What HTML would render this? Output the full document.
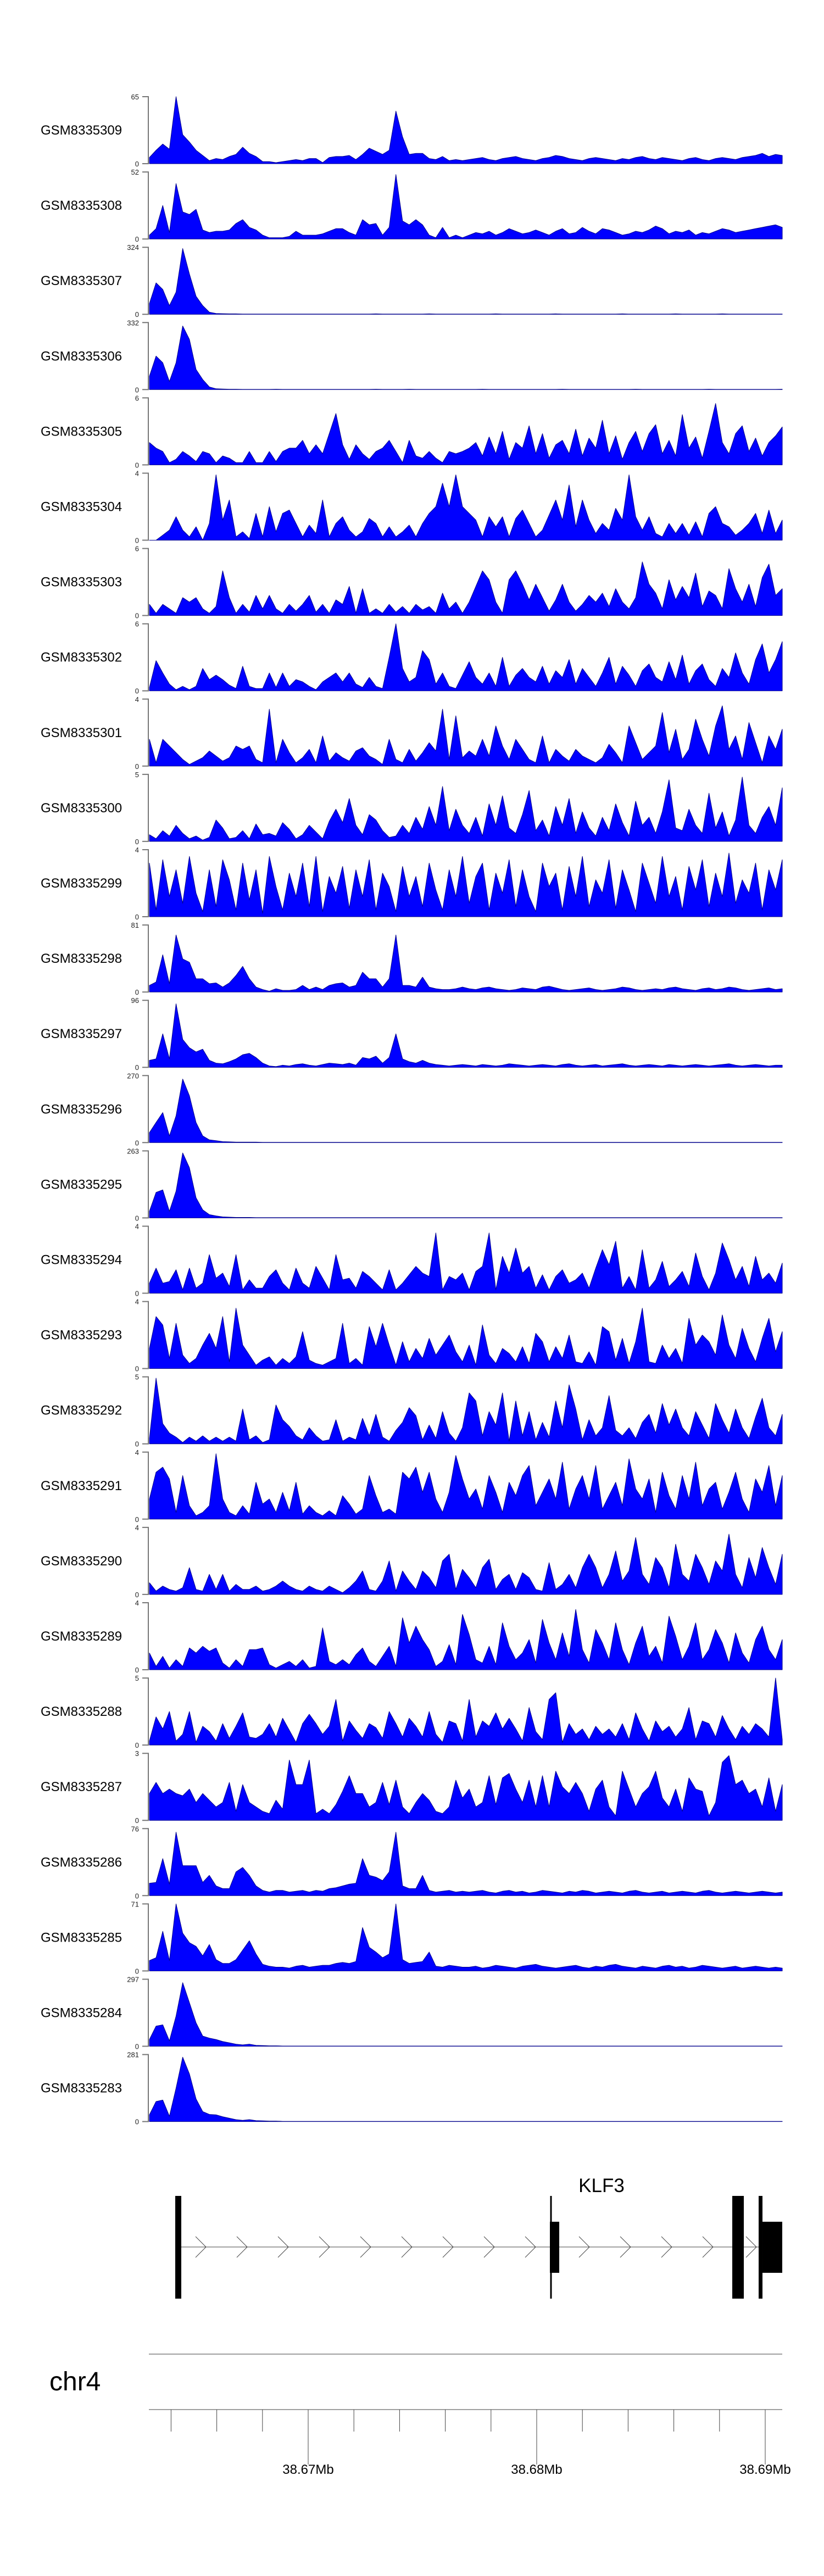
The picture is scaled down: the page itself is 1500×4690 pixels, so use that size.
<!DOCTYPE html>
<html><head><meta charset="utf-8"><style>
html,body{margin:0;padding:0;background:#fff;}
svg{display:block;}
text{font-family:"Liberation Sans",Arial,sans-serif;}
</style></head><body>
<svg id="fig" xmlns="http://www.w3.org/2000/svg" width="1500" height="4690" viewBox="0 0 1500 4690"></svg>
<script>
// ---- data ----
const sampleNames = ["GSM8335309","GSM8335308","GSM8335307","GSM8335306","GSM8335305","GSM8335304","GSM8335303","GSM8335302","GSM8335301","GSM8335300","GSM8335299","GSM8335298","GSM8335297","GSM8335296","GSM8335295","GSM8335294","GSM8335293","GSM8335292","GSM8335291","GSM8335290","GSM8335289","GSM8335288","GSM8335287","GSM8335286","GSM8335285","GSM8335284","GSM8335283"];
const axisMax = [65,52,324,332,6,4,6,6,4,5,4,81,96,270,263,4,4,5,4,4,4,5,3,76,71,297,281];

const s309 = [6,13,19,14,65,28,21,13,8,3,5,4,7,9,16,10,7,2,2,1,2,3,4,3,5,5,1,6,7,7,8,4,9,15,12,9,13,51,26,9,10,10,5,4,7,3,4,3, 4,5,6,4,3,5,6,7,5,4,3,5,6,8,7,5,4,3,5,6,5,4,3,5,4,6,7,5,4,6,5,4,3,5,6,4,3,5,6,5,4,6,7,8,10,7,9,8];
const s308 = [3,8,26,5,43,21,19,23,7,5,6,6,7,12,15,9,7,3,1,1,1,2,6,3,3,3,4,6,8,8,5,3,15,11,12,3,9,50,14,11,15,11,3,1,9,1,3,1, 3,5,4,6,3,5,8,6,4,5,7,5,3,6,8,4,5,9,6,4,8,7,5,3,4,6,5,7,10,8,4,6,5,7,3,5,4,6,8,7,5,6,7,8,9,10,11,9];
const s307 = [52,152,120,42,107,318,195,87,42,10,4,3,2,2,1,1,1,1,1,1,1,1,1,1,1,1,1,1,1,1,1,1,1,1,2,1,1,1,1,1,1,1,2,1,1,1,1,1, 1,1,1,1,2,1,1,1,1,1,1,1,1,2,1,1,1,1,1,1,1,1,1,2,1,1,1,1,1,1,1,2,1,1,1,1,1,1,2,1,1,1,1,1,1,1,1,1];
const s306 = [66,166,133,40,133,315,249,100,50,13,4,3,2,2,1,1,1,1,1,2,1,1,1,1,1,1,1,1,1,1,1,1,1,1,2,1,1,1,1,2,1,1,1,1,1,1,1,1, 1,1,2,1,1,1,1,1,1,1,1,1,1,1,2,1,1,1,1,1,1,1,1,1,1,2,1,1,1,1,1,1,1,1,1,1,2,1,1,1,1,1,1,1,1,1,1,2];
const s305 = [2,1.5,1.2,0.2,0.5,1.2,0.8,0.3,1.2,1,0.2,0.8,0.6,0.2,0.2,1.2,0.2,0.2,1.2,0.3,1.2,1.5,1.5,2.2,1,1.8,1,2.8,4.6,1.8,0.5,1.8,1,0.5,1.2,1.5,2.2,1.2,0.2,2.2,0.8,0.6,1.2,0.6,0.2,1.2,1,1.2, 1.5,2,0.8,2.5,1,3,0.5,2,1.5,3.5,1,2.8,0.6,1.8,2.2,1,3.2,0.8,2.4,1.5,4,1,2.6,0.5,2,3,1.2,2.8,3.6,1,2.2,0.8,4.5,1.5,2.5,0.6,3,5.5,2,1,2.8,3.5,1.2,2.4,0.8,2,2.6,3.4];
const s304 = [0,0,0.3,0.6,1.4,0.6,0.2,0.8,0,1,3.9,1.2,2.4,0.2,0.5,0.1,1.6,0.2,2,0.5,1.6,1.8,1,0.2,0.9,0.4,2.4,0.2,1,1.4,0.6,0.2,0.5,1.3,1,0.2,0.8,0.2,0.5,0.9,0.2,1,1.6,2,3.4,2,3.9,2, 1.6,1.2,0.2,1.4,0.8,1.4,0.2,1.3,1.8,1,0.2,0.6,1.5,2.4,1.2,3.3,0.8,2.4,1.2,0.4,1,0.6,1.9,1.2,3.9,1.4,0.6,1.4,0.4,0.2,1,0.4,1,0.3,1.1,0.2,1.6,2,1,0.8,0.3,0.6,1,1.6,0.4,1.8,0.4,1.2];
const s303 = [1,0.2,1,0.6,0.2,1.6,1.2,1.6,0.6,0.2,0.8,4,1.6,0.2,1,0.3,1.8,0.6,1.8,0.6,0.2,1,0.4,1,1.8,0.3,1,0.2,1.4,1,2.6,0.2,2.4,0.2,0.6,0.2,1,0.3,0.8,0.2,1,0.5,0.8,0.2,2,0.6,1.2,0.2, 1.2,2.6,4,3.2,1.2,0.2,3.2,4,2.8,1.4,2.8,1.6,0.4,1.4,2.8,1.2,0.4,1,1.8,1.2,2,0.8,2.4,1.2,0.6,1.6,4.8,2.8,2,0.6,3.2,1.4,2.6,1.6,3.8,0.8,2.2,1.8,0.6,4.2,2.4,1.2,2.8,0.8,3.4,4.6,1.8,2.4];
const s302 = [0.3,2.7,1.6,0.6,0.1,0.4,0.1,0.4,2,1,1.4,1,0.5,0.2,2.2,0.4,0.2,0.2,1.6,0.3,1.6,0.4,1,0.8,0.4,0.1,0.8,1.2,1.6,0.8,1.6,0.6,0.3,1.2,0.4,0.2,3,6,2,0.8,1.2,3.6,2.8,0.6,1.6,0.4,0.2,1.4, 2.6,1.2,0.6,1.6,0.4,3,0.4,1.4,2,1.2,0.8,2.2,0.6,1.8,1.2,2.8,0.6,2,1.2,0.4,1.6,3,0.6,2.2,1.4,0.4,1.8,2.4,1.2,0.8,2.6,1,3.2,0.6,1.8,2.4,1,0.4,2,1.2,3.4,1.6,0.6,2.8,4.2,1.6,2.8,4.4];
const s301 = [1.6,0.2,1.6,1.2,0.8,0.4,0.1,0.3,0.5,0.9,0.6,0.3,0.5,1.2,1,1.2,0.4,0.2,3.4,0.2,1.6,0.8,0.2,0.5,1,0.2,1.8,0.3,0.8,0.5,0.3,0.9,1.1,0.6,0.4,0.1,1.6,0.4,0.2,1,0.3,0.8,1.4,0.9,3.4,0.4,3,0.5, 0.9,0.6,1.6,0.6,2.4,1.2,0.4,1.6,1,0.4,0.2,1.8,0.2,1,0.6,0.3,1,0.6,0.4,0.2,0.5,1.3,0.8,0.2,2.4,1.4,0.4,0.8,1.2,3.2,0.8,2.2,0.4,1,2.8,1.6,0.6,2.4,3.6,1,1.8,0.4,2.6,1.4,0.2,1.8,1,2.2];
const s300 = [0.5,0.2,0.8,0.4,1.2,0.6,0.2,0.4,0.1,0.3,1.6,1,0.2,0.3,0.8,0.2,1.3,0.5,0.6,0.4,1.4,0.9,0.2,0.5,1.2,0.7,0.2,1.5,2.4,1.4,3.2,1.2,0.5,2,1.6,0.8,0.3,0.4,1.2,0.6,1.8,0.9,2.6,1.2,4.1,0.8,2.4,1.2, 0.6,1.8,0.4,2.8,1.2,3.4,1,0.6,2,3.8,0.8,1.6,0.4,2.6,1.2,3.2,0.6,2.2,1,0.4,1.8,0.8,2.8,1.4,0.4,3,1.2,1.8,0.6,2.2,4.6,1,0.8,2.4,1.2,0.6,3.6,1,2.2,0.4,1.6,4.8,1.2,0.6,1.8,2.6,1.2,4];
const s299 = [3.2,0.4,3.4,1.2,2.8,0.8,3.6,1.4,0.3,2.8,0.6,3.4,2.2,0.4,3.2,1,2.8,0.2,3.6,1.8,0.4,2.6,1.2,3.2,0.6,3.6,0.3,2.4,1.4,3,0.5,2.8,1.2,3.4,0.4,2.6,1.8,0.3,3,1.2,2.4,0.6,3.2,1.6,0.4,2.8,1.2,3.6, 0.8,2.4,3.2,0.4,2.6,1.4,3.4,0.6,2.8,1.2,0.3,3.2,1.8,2.6,0.4,3,1.2,3.6,0.6,2.2,1.4,3.4,0.5,2.8,1.6,0.3,3.2,2,0.8,3.6,1.2,2.4,0.4,3,1.6,3.4,0.6,2.6,1.2,3.8,0.8,2.2,1.4,3.2,0.4,2.8,1.6,3.4];
const s298 = [8,12,45,10,69,40,36,16,16,10,11,6,11,20,31,16,6,3,1,4,2,2,3,8,3,6,3,8,10,11,6,8,24,16,16,6,16,69,8,8,6,18,6,4,3,3,4,6, 4,3,5,6,4,3,2,3,5,4,3,6,7,5,3,2,3,4,5,3,2,3,4,6,5,3,2,3,4,3,5,6,4,3,2,4,5,3,4,6,5,3,2,3,4,5,3,4];
const s297 = [10,12,48,12,91,40,28,22,26,10,6,5,8,12,18,20,14,6,2,1,3,2,4,5,3,2,4,6,5,4,6,3,14,12,16,6,14,48,12,8,6,10,6,4,3,2,3,4, 3,2,4,3,2,3,5,4,3,2,3,4,3,2,4,5,3,2,3,4,2,3,4,5,3,2,3,4,3,2,4,3,2,3,4,3,2,3,4,5,3,2,3,4,3,2,3,3];
const s296 = [40,81,121,27,108,256,189,81,27,11,8,4,3,2,2,2,2,1,1,1,1,1,1,1,1,1,1,1,1,1,1,1,1,1,1,1,1,1,1,1,1,1,1,1,1,1,1,1, 1,1,1,1,1,1,1,1,1,1,1,1,1,1,1,1,1,1,1,1,1,1,1,1,1,1,1,1,1,1,1,1,1,1,1,1,1,1,1,1,1,1,1,1,1,1,1,1];
const s295 = [26,100,110,26,105,255,197,79,32,13,8,4,3,2,2,2,1,1,1,1,1,1,1,1,1,1,1,1,1,1,1,1,1,1,1,1,1,1,1,1,1,1,1,1,1,1,1,1, 1,1,1,1,1,1,1,1,1,1,1,1,1,1,1,1,1,1,1,1,1,1,1,1,1,1,1,1,1,1,1,1,1,1,1,1,1,1,1,1,1,1,1,1,1,1,1,1];
const s294 = [0.6,1.5,0.6,0.7,1.4,0.2,1.5,0.3,0.6,2.3,0.9,1.2,0.4,2.3,0.2,0.8,0.3,0.3,1,1.4,0.6,0.2,1.5,0.6,0.3,1.6,0.9,0.2,2.3,0.8,0.9,0.3,1.3,1,0.6,0.2,1.4,0.2,0.6,1.1,1.6,1.2,1,3.6,0.2,1,0.8,1.2, 0.2,1.3,1.6,3.6,0.2,2.2,1.2,2.7,1.2,1.6,0.3,1.1,0.2,1,1.4,0.6,0.8,1.2,0.3,1.5,2.6,1.7,3.1,0.3,1,0.2,2.6,0.3,0.8,1.9,0.4,0.8,1.3,0.4,2.4,1,0.2,1.2,3,2,0.8,1.6,0.4,2.2,0.8,1.2,0.6,1.8];
const s293 = [1.2,3.1,2.6,0.6,2.7,0.8,0.3,0.6,1.4,2.1,1.2,3.1,0.4,3.6,1.4,0.8,0.2,0.5,0.7,0.2,0.6,0.3,0.7,2.2,0.5,0.3,0.2,0.4,0.6,2.7,0.3,0.6,0.2,2.5,1.3,2.7,1.4,0.2,1.6,0.4,1.2,0.6,1.8,0.8,1.4,2,1,0.4, 1.4,0.2,2.6,0.8,0.3,1.2,0.9,0.4,1.3,0.3,2.1,1.6,0.4,1.3,0.6,2,0.4,0.3,1,0.2,2.5,2.2,0.5,1.8,0.3,1.6,3.6,0.4,0.3,1.4,0.6,1.2,0.3,3,1.4,2,1.6,0.8,3.2,1.4,0.6,2.4,1.2,0.4,1.8,3,1,2.2];
const s292 = [0.4,4.9,1.5,0.8,0.5,0.1,0.5,0.2,0.6,0.2,0.5,0.2,0.5,0.2,2.6,0.3,0.6,0.1,0.3,2.9,1.8,1.3,0.6,0.3,1.2,0.6,0.2,0.3,1.8,0.2,0.5,0.3,1.9,0.6,2.2,0.5,0.2,1,1.6,2.7,2.1,0.3,1.4,0.4,2.4,0.8,0.2,1.2, 3.8,3.2,0.6,2.4,1.4,3.8,0.2,3.2,0.6,2.4,0.3,1.6,0.5,3.2,1.2,4.4,2.6,0.3,1.8,0.6,1.2,3.6,1,0.6,1.2,0.4,1.6,2.2,0.8,3,1.4,2.6,1.2,0.6,2.4,1.4,0.4,3,1.8,0.8,2.6,1.2,0.4,2,3.4,1.2,0.6,2.2];
const s291 = [1.2,2.8,3.1,2.4,0.4,2.6,0.8,0.2,0.4,0.8,3.9,1.2,0.4,0.2,0.8,0.3,2.2,0.9,1.2,0.4,1.6,0.5,2.2,0.3,0.8,0.4,0.2,0.5,0.2,1.4,0.9,0.3,0.6,2.6,1.4,0.4,0.6,0.3,2.8,2.4,3.1,1.6,2.8,1.2,0.4,1.6,3.8,2.4, 1.2,1.8,0.6,2.6,1.6,0.4,2.2,1.4,2.6,3.2,0.8,1.6,2.4,1.2,3.4,0.6,1.8,2.6,1.2,3.2,0.6,1.4,2.2,0.8,3.6,1.8,1.2,2.4,0.4,2.8,1.4,0.6,2.6,1.2,3.4,0.8,1.8,2.2,0.6,1.6,2.8,1.2,0.4,2.4,1.6,3.2,0.8,2.6];
const s290 = [0.7,0.2,0.5,0.3,0.2,0.4,1.6,0.3,0.2,1.2,0.3,1.2,0.2,0.6,0.3,0.3,0.5,0.2,0.3,0.5,0.8,0.5,0.3,0.2,0.5,0.3,0.2,0.5,0.3,0.1,0.4,0.8,1.4,0.3,0.2,0.8,2,0.2,1.4,0.8,0.3,1.4,1,0.4,2,2.4,0.3,1.5, 1,0.4,1.6,2.1,0.3,0.9,1.2,0.3,1.3,1,0.3,0.2,1.9,0.3,0.6,1.2,0.4,1.6,2.4,1.6,0.4,1.2,2.6,0.8,1.4,3.4,1.2,0.6,2.2,1.6,0.4,3,1.2,0.8,2.4,1.6,0.6,2,1.4,3.6,1.2,0.4,2.2,1,2.8,1.6,0.6,2.4];
const s289 = [1,0.2,0.8,0.1,0.6,0.2,1.3,1,1.4,1.1,1.3,0.4,0.1,0.6,0.2,1.2,1.2,1.3,0.3,0.1,0.3,0.5,0.2,0.6,0.1,0.2,2.5,0.5,0.3,0.6,0.3,0.9,1.3,0.5,0.2,0.8,1.4,0.2,3.1,1.6,2.6,1.8,1.2,0.2,0.5,1.5,0.3,3.3, 2.1,0.6,0.4,1.4,0.3,2.8,1.4,0.6,1,1.8,0.4,3,1.6,0.6,2.2,0.8,3.6,1.2,0.4,2.4,1.6,0.6,2.8,1.2,0.3,1.6,2.6,0.8,1.4,0.4,3.2,2,0.6,1.4,2.8,0.6,1.2,2.4,1.6,0.4,2.2,1,0.4,1.8,2.6,1.2,0.6,1.8];
const s288 = [0.3,2.1,1.2,2.5,0.3,0.8,2.5,0.2,1.4,1,0.3,1.6,0.5,1.4,2.4,0.6,0.5,0.8,1.6,0.6,2,1.1,0.2,1.6,2.3,1.6,0.8,1.4,3.4,0.3,1.8,1.1,0.5,1.6,1.3,0.5,2.5,1.6,0.6,2,1.4,0.6,2.5,0.8,0.2,1.8,1.6,0.3, 3.4,0.6,1.8,1.4,2.4,1.2,2,1.2,0.3,2.8,1,0.4,3.4,3.9,0.2,1.6,0.8,1.2,0.4,1.4,0.8,1.2,0.6,1.6,0.4,2.4,1.2,0.3,1.8,1,1.4,0.6,1.2,2.8,0.4,1.8,1.6,0.6,2.2,1.2,0.4,1.4,0.8,1.6,1.2,0.6,5,0.4];
const s287 = [1.2,1.7,1.2,1.4,1.2,1.1,1.4,0.8,1.2,0.9,0.6,0.8,1.7,0.4,1.6,0.8,0.6,0.4,0.3,0.9,0.5,2.7,1.6,1.6,2.7,0.3,0.5,0.3,0.7,1.3,2,1.2,1.2,0.6,0.8,1.7,0.7,1.8,0.6,0.3,0.8,1.2,0.9,0.4,0.3,0.6,1.8,1, 1.4,0.6,0.8,2,0.7,1.9,2.1,1.4,0.8,1.8,0.6,2,0.6,2.2,1.5,1.2,1.7,1.2,0.4,1.4,1.8,0.6,0.2,2.2,1.4,0.6,1.2,1.5,2.2,1,0.6,1.4,0.4,1.9,1.4,1.3,0.2,0.8,2.6,2.9,1.6,1.8,1.2,1.4,0.6,1.9,0.4,1.6];
const s286 = [14,15,42,13,72,34,34,34,15,23,11,8,8,27,32,23,11,6,4,6,6,4,5,6,4,6,5,8,9,11,13,14,42,23,21,17,27,72,11,8,8,23,6,4,5,6,4,5, 4,5,6,4,3,5,6,4,5,3,4,6,5,4,3,5,4,6,5,3,4,5,4,3,5,6,4,3,4,5,3,4,5,4,3,5,6,4,3,4,5,4,3,4,5,4,3,4];
const s285 = [11,14,42,11,71,40,30,26,16,28,12,8,8,12,22,32,18,7,5,4,4,3,5,6,4,5,6,6,8,9,8,10,46,25,20,14,18,71,12,8,9,10,20,5,4,6,5,4, 4,5,3,4,6,5,4,3,5,6,7,5,4,3,4,5,6,4,3,5,4,6,7,5,4,3,5,4,3,5,6,4,5,3,4,6,5,4,3,4,5,3,4,5,4,3,4,3];
const s284 = [30,89,95,24,134,282,193,104,45,36,30,21,15,9,6,9,4,3,2,2,1,1,1,1,1,1,1,1,1,1,1,1,1,1,1,1,1,1,1,1,1,1,1,1,1,1,1,1, 1,1,1,1,1,1,1,1,1,1,1,1,1,1,1,1,1,1,1,1,1,1,1,1,1,1,1,1,1,1,1,1,1,1,1,1,1,1,1,1,1,1,1,1,1,1,1,1];
const s283 = [28,84,90,22,140,270,200,95,42,30,28,20,14,8,5,8,4,3,2,2,1,1,1,1,1,1,1,1,1,1,1,1,1,1,1,1,1,1,1,1,1,1,1,1,1,1,1,1, 1,1,1,1,1,1,1,1,1,1,1,1,1,1,1,1,1,1,1,1,1,1,1,1,1,1,1,1,1,1,1,1,1,1,1,1,1,1,1,1,1,1,1,1,1,1,1,1];
const seriesList = [s309,s308,s307,s306,s305,s304,s303,s302,s301,s300,s299,s298,s297,s296,s295,s294,s293,s292,s291,s290,s289,s288,s287,s286,s285,s284,s283];

// gene model (Mb)
const exonStarts = [38.664183, 38.680577, 38.688558, 38.689712, 38.689880];
const exonEnds   = [38.664447, 38.680986, 38.689063, 38.689880, 38.690745];
const exonTall   = [true, false, true, true, false];
const tssMarkMb = 38.680625;
const geneLabel = "KLF3";
const axisTickLabels = ["38.67Mb","38.68Mb","38.69Mb"];
const axisTickValues = [38.67, 38.68, 38.69];

// ---- layout ----
const NS="http://www.w3.org/2000/svg";
const svg=document.getElementById('fig');
const X0=272, X1=1424, TOP0=176, PITCH=137.1, H=122;
const mbToX = mb => 561 + (mb-38.67)*41600;
function mk(tag, attrs, parent){const e=document.createElementNS(NS,tag);for(const k in attrs)e.setAttribute(k,attrs[k]);(parent||svg).appendChild(e);return e;}

seriesList.forEach((vals,ti)=>{
  const top=TOP0+ti*PITCH, zero=top+H, mx=axisMax[ti];
  const g=mk('g',{});
  
  
  const lab=mk('text',{x:74,y:top+H/2+8,'font-size':24,fill:'#000'},g);
  lab.textContent=sampleNames[ti];
  
  
  const ax=mk('path',{d:`M259 ${top}H270V${zero}H259`,fill:'none',stroke:'#777','stroke-width':2},g);
  
  
  const t1=mk('text',{x:253,y:top+5,'font-size':13,'text-anchor':'end',fill:'#222'},g);
  t1.textContent=String(mx);
  
  
  const t0=mk('text',{x:253,y:zero+5,'font-size':13,'text-anchor':'end',fill:'#222'},g);
  t0.textContent='0';
  
  
  const n=vals.length;
  let d=`M${X0} ${zero}`;
  vals.forEach((v,i)=>{const x=X0+i*(X1-X0)/(n-1);const y=zero-Math.min(v,mx)/mx*H;d+=`L${x.toFixed(1)} ${y.toFixed(1)}`;});
  d+=`L${X1} ${zero}Z`;
  const area=mk('path',{d:d,fill:'#0000ff',stroke:'#00008b','stroke-width':1,'stroke-linejoin':'round'},g);
  
  
});

// gene track
const gg=mk('g',{});


const GY=4091;
const gx0=mbToX(exonEnds[0]), gx1=mbToX(exonStarts[exonStarts.length-1]);
const intron=mk('line',{x1:gx0,y1:GY,x2:gx1,y2:GY,stroke:'#444','stroke-width':1},gg);


const chevTips=[];
for(let x=375;x<1000;x+=75)chevTips.push(x);
for(let x=1073;x<1330;x+=75)chevTips.push(x);
chevTips.push(1377);
chevTips.forEach(tip=>{
  const ch=mk('path',{d:`M${tip-19} ${GY-19}L${tip} ${GY}L${tip-19} ${GY+19}`,fill:'none',stroke:'#444','stroke-width':1},gg);
  
  
});
const thin=mk('rect',{x:mbToX(tssMarkMb)-1.5,y:3998,width:3,height:187,fill:'#000'},gg);


exonStarts.forEach((s,i)=>{
  const x=mbToX(s), w=Math.max(2,mbToX(exonEnds[i])-x);
  const y=exonTall[i]?3998:4045, h=exonTall[i]?187:93;
  const r=mk('rect',{x:x,y:y,width:w,height:h,fill:'#000'},gg);
  
  
});
const gl=mk('text',{x:1095,y:3991,'font-size':35,'text-anchor':'middle',fill:'#000'},gg);
gl.textContent=geneLabel;



// chromosome axis
const ag=mk('g',{});


const chr=mk('text',{x:90,y:4352,'font-size':48,fill:'#000'},ag);
chr.textContent='chr4';


const l1=mk('line',{x1:271,y1:4286,x2:1424,y2:4286,stroke:'#666','stroke-width':1.3},ag);


const l2=mk('line',{x1:271,y1:4387,x2:1424,y2:4387,stroke:'#666','stroke-width':1.3},ag);


for(let k=-3;k<=10;k++){
  const x=mbToX(38.67+k*0.002);
  const tk=mk('line',{x1:x,y1:4387,x2:x,y2:4427,stroke:'#444','stroke-width':1},ag);
  
  
}
axisTickValues.forEach((v,i)=>{
  const x=mbToX(v);
  const tk=mk('line',{x1:x,y1:4387,x2:x,y2:4487,stroke:'#444','stroke-width':1},ag);
  
  
  const t=mk('text',{x:x,y:4504,'font-size':24,'text-anchor':'middle',fill:'#000'},ag);
  t.textContent=axisTickLabels[i];
  
  
});
</script>
</body></html>
